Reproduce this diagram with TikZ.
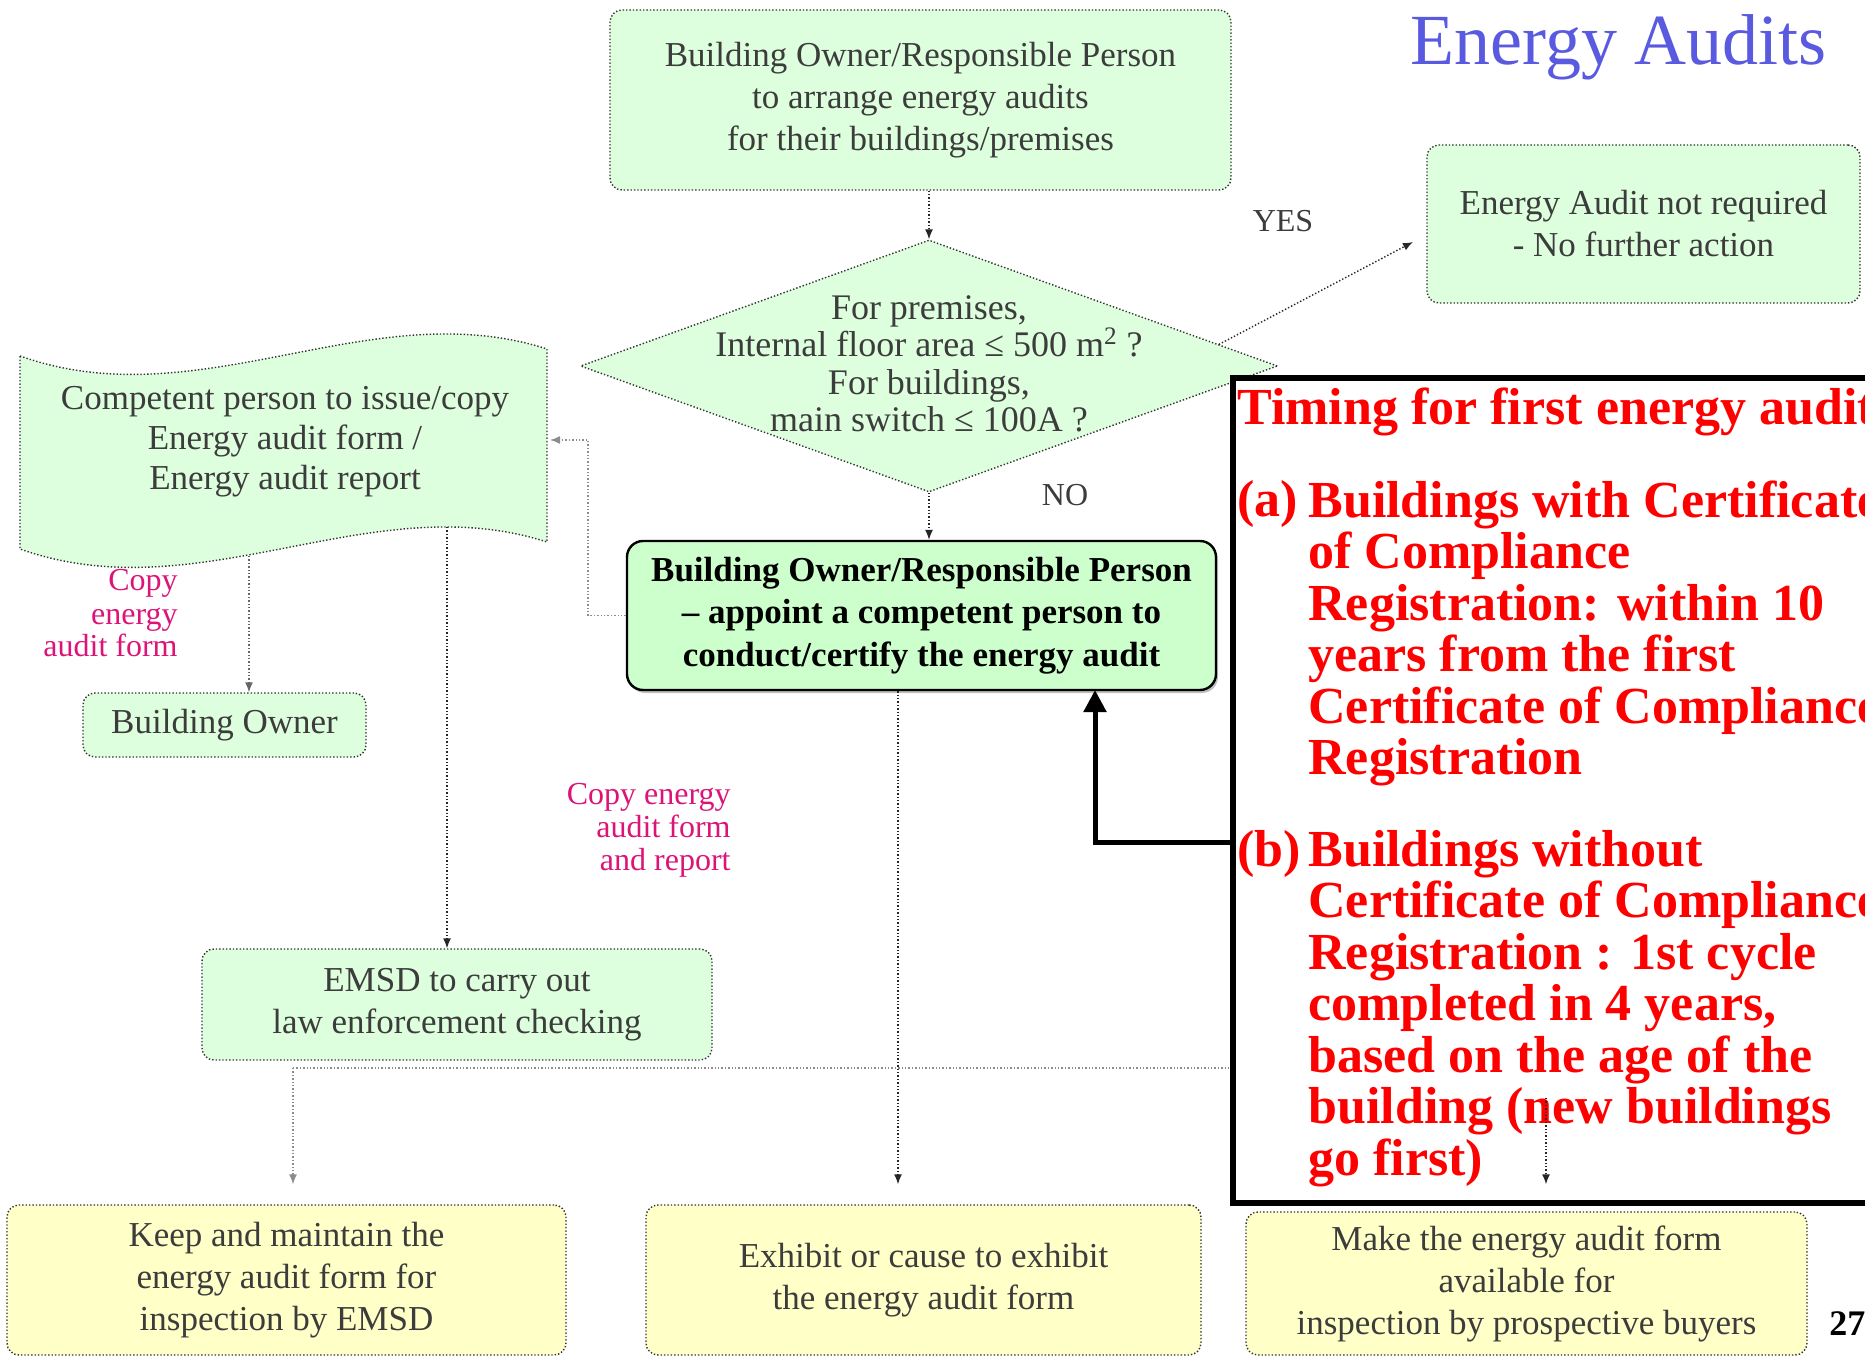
\documentclass[tikz,border=0pt]{standalone}
\usepackage{fontspec}
\setmainfont{Liberation Serif}
\usetikzlibrary{arrows.meta,shapes.geometric,shadows,calc}
\definecolor{fgreen}{RGB}{222,255,222}
\definecolor{fyellow}{RGB}{255,255,200}
\definecolor{cgreen}{RGB}{204,255,204}
\definecolor{ftext}{RGB}{60,60,60}
\definecolor{magc}{RGB}{220,20,120}
\definecolor{ttlc}{RGB}{90,90,225}
\begin{document}
\begin{tikzpicture}[x=0.5pt,y=-0.5pt,
 fbox/.style={draw=black!80, densely dotted, line width=0.7pt, rounded corners=6pt, fill=fgreen, text=ftext, align=center, font=\fontsize{17.5}{21}\selectfont, inner sep=0pt},
 ybox/.style={fbox, fill=fyellow},
 conn/.style={densely dotted, line width=0.7pt, draw=black!85, -{Latex[length=5pt,width=4pt]}},
 gconn/.style={conn, draw=black!45},
 lab/.style={text=ftext, font=\fontsize{16}{18}\selectfont},
 maglab/.style={text=magc, align=right, font=\fontsize{16}{16.5}\selectfont},
 redtxt/.style={text=red, font=\bfseries\fontsize{26}{25.75}\selectfont, inner sep=0pt}
]
\useasboundingbox (0,0) rectangle (1865,1358);
\begin{scope}
\clip (0,0) rectangle (1865,1358);

% title
\node[anchor=base west, text=ttlc, font=\fontsize{36}{40}\selectfont, inner sep=0pt] (title) at (1410,65) {Energy Audits};

% top box
\node[fbox, minimum width=310.5pt, minimum height=90pt] (top) at (920.5,100) {Building Owner/Responsible Person\\to arrange energy audits\\for their buildings/premises};

% right box
\node[fbox, minimum width=216.5pt, minimum height=79pt] (rbox) at (1643.5,224) {Energy Audit not required\\- No further action};

% diamond
\node[diamond, draw=black!80, densely dotted, line width=0.7pt, fill=fgreen, minimum width=348.5pt, minimum height=126pt, inner sep=0pt] (dia) at (929,366) {};
\node[text=ftext, align=center, font=\fontsize{18}{18.75}\selectfont, inner sep=0pt] (diatext) at (929,364) {For premises,\\Internal floor area ≤ 500 m\textsuperscript{2} ?\\For buildings,\\main switch ≤ 100A ?};

% wave shape
\draw[densely dotted, line width=0.7pt, draw=black!80, fill=fgreen] (20,356) .. controls (200,420) and (370,292) .. (547,349) -- (547,542) .. controls (370,485) and (200,613) .. (20,549) -- cycle;
\node[text=ftext, align=center, font=\fontsize{17.5}{20}\selectfont, inner sep=0pt] (wave) at (285,442) {Competent person to issue/copy\\Energy audit form /\\Energy audit report};

% central box
\node[draw=black, solid, line width=1.2pt, rounded corners=8pt, fill=cgreen, drop shadow={shadow xshift=1pt, shadow yshift=-1.5pt, fill=black!50}, align=center, font=\bfseries\fontsize{17.5}{21.25}\selectfont, minimum width=294.5pt, minimum height=74.5pt, inner sep=0pt] (cbox) at (921.5,615.5) {Building Owner/Responsible Person\\– appoint a competent person to\\conduct/certify the energy audit};

% building owner
\node[fbox, minimum width=141.5pt, minimum height=32pt] (bo) at (224.5,725) {Building Owner};

% EMSD
\node[fbox, minimum width=255pt, minimum height=55.5pt] (emsd) at (457,1004.5) {EMSD to carry out\\law enforcement checking};

% bottom boxes
\node[ybox, minimum width=279.5pt, minimum height=75pt] (bl) at (286.5,1280) {Keep and maintain the\\energy audit form for\\inspection by EMSD};
\node[ybox, minimum width=277.5pt, minimum height=75pt] (bm) at (923.5,1280) {Exhibit or cause to exhibit\\the energy audit form};
\node[ybox, minimum width=280.5pt, minimum height=71.5pt] (br) at (1526.5,1283.5) {Make the energy audit form\\available for\\inspection by prospective buyers};

% labels (base anchor = last line)
\node[maglab, anchor=base east, inner sep=0pt] (lab1) at (178,657) {Copy\\energy\\audit form};
\node[maglab, anchor=base east, inner sep=0pt] (lab2) at (731,870) {Copy energy\\audit form\\and report};
\node[lab, anchor=base, inner sep=0pt] (yes) at (1283,232) {YES};
\node[lab, anchor=base, inner sep=0pt] (no) at (1065,506) {NO};
\node[anchor=base west, font=\bfseries\fontsize{18}{20}\selectfont, inner sep=0pt] (pg) at (1829,1335) {27};

% coordinates
\coordinate (ye) at ($(dia.north)!0.83!(dia.east)$);
\coordinate (yt) at (1413,242);
\coordinate (lk) at (588,440);
\coordinate (w1) at (550,440);
\coordinate (w2) at (249,556);
\coordinate (w3) at (447,527);
\coordinate (jl) at (293,1068);
\coordinate (jm) at (898,1068);
\coordinate (jr) at (1546,1068);
\coordinate (ta) at (1233,842);
\coordinate (tb) at (1095,690);

% connectors
\draw[conn] (dia.north |- top.south) -- (dia.north);
\draw[conn] (dia.south) -- (dia.south |- cbox.north);
\draw[conn] (ye) -- (yt);
\draw[gconn] (cbox.west) -| (lk) -- (w1);
\draw[conn, draw=black!60] (w2) -- (w2 |- bo.north);
\draw[conn] (w3) -- (w3 |- emsd.north);
\draw[densely dotted, line width=0.7pt, draw=black!45] (jl) -- (jr);
\draw[gconn, shorten >=10pt] (jl) -- (jl |- bl.north);
\draw[conn, shorten >=10pt] (jm |- cbox.south) -- (jm |- bm.north);

% red box
\node[draw=black, line width=3pt, fill=white, minimum width=333.5pt, minimum height=412.5pt, inner sep=0pt] (redbox) at (1566.5,790.5) {};
\node[redtxt, anchor=base west] (rt0) at (1237,425) {Timing for first energy audit};
\node[redtxt, anchor=base west] (ra) at (1237,517) {(a)};
\node[redtxt, anchor=base west, align=left] (ra2) at (1308,774.5) {Buildings with Certificate\\of Compliance\\Registration: within 10\\years from the first\\Certificate of Compliance\\Registration};
\node[redtxt, anchor=base west] (rb) at (1237,866) {(b)};
\node[redtxt, anchor=base west, align=left] (rb2) at (1308,1175) {Buildings without\\Certificate of Compliance\\Registration : 1st cycle\\completed in 4 years,\\based on the age of the\\building (new buildings\\go first)};

\draw[conn, shorten >=13.5pt] ($(jr)+(0,30)$) -- (jr |- br.north);
\draw[line width=2.5pt, -{Triangle[length=11pt,width=11pt]}] (ta) -| (tb);
\end{scope}
\end{tikzpicture}
\end{document}
